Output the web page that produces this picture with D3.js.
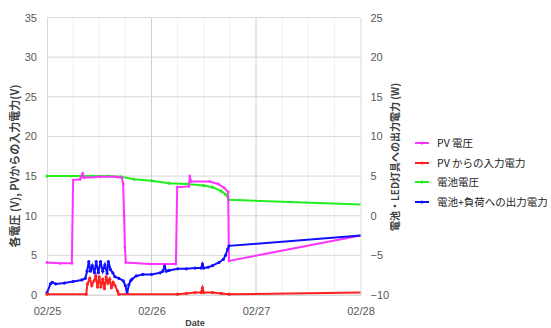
<!DOCTYPE html>
<html>
<head>
<meta charset="utf-8">
<script src="https://cdn.jsdelivr.net/npm/d3@7"></script>
<style>
body { margin: 0; background: #fff; }
svg { font-family: "Liberation Sans", "Noto Sans CJK JP", sans-serif; }
.tick text { fill: #595959; font-size: 11px; }
.domain { stroke: #d9d9d9; }
</style>
</head>
<body>
<svg class="chart"></svg>
<script>
// hours since 02/25 00:00
var dayLabels = ["02/25", "02/26", "02/27", "02/28"];
var leftTicks = [0, 5, 10, 15, 20, 25, 30, 35];
var rightTicks = [-10, -5, 0, 5, 10, 15, 20, 25];
var seriesNames = ["PV 電圧", "PV からの入力電力", "電池電圧", "電池+負荷への出力電力"];
var seriesColors = ["#ff33ff", "#ff2020", "#22ee22", "#1010ff"];

// PV voltage (V, left axis)
var pvVolt = [
    [0, 4.1], [3, 4.0], [5.7, 4.0], [6.0, 14.5], [7.6, 14.6], [8.2, 15.3], [8.5, 14.8],
    [12.2, 14.9], [15.6, 14.9], [17.2, 14.8], [17.5, 14.0], [17.7, 10], [17.9, 6],
    [18.1, 4.1], [23.7, 3.9], [29.6, 3.9], [29.9, 13.6], [32.6, 13.7], [32.8, 15.0],
    [33.1, 14.3], [37.4, 14.3], [39.3, 14.0], [40.7, 13.5], [41.6, 13.0], [41.8, 4.3],
    [72, 7.5]
];

// PV input power (left axis)
var pvPower = [
    [0, 0.1], [9.0, 0.1], [9.3, 1.4], [9.8, 2.1], [10.3, 1.2], [10.8, 1.8], [11.2, 2.4],
    [11.6, 1.0], [12.0, 2.3], [12.4, 1.0], [12.8, 2.0], [13.2, 0.8], [13.6, 2.3],
    [14.0, 1.5], [14.4, 2.0], [14.8, 0.9], [15.2, 1.6], [15.6, 1.2], [16.2, 0.5],
    [16.5, 0.1], [30, 0.1], [32, 0.2], [34, 0.3], [35.4, 0.3], [35.7, 0.9], [36.0, 0.3],
    [38, 0.3], [40, 0.2], [41.8, 0.1], [72, 0.3]
];

// battery voltage (V, left axis)
var battVolt = [
    [0, 15.0], [8, 15.0], [14, 15.0], [17, 14.9], [20, 14.6], [24, 14.4], [28, 14.1],
    [32, 14.0], [36, 13.8], [38, 13.6], [40, 13.1], [41, 12.7], [41.8, 12.0], [72, 11.4]
];

// output power to battery + load (W, right axis)
var outPower = [
    [0, -9.7], [0.8, -8.6], [1.2, -8.4], [2, -8.6], [4, -8.5], [6, -8.3], [8, -8.1],
    [8.8, -7.9], [9.2, -7.0], [9.6, -5.8], [10.0, -7.0], [10.4, -6.3], [10.9, -7.2],
    [11.3, -5.8], [11.8, -7.2], [12.3, -5.8], [12.8, -7.0], [13.3, -6.2], [13.8, -7.3],
    [14.1, -5.8], [14.6, -6.8], [15.1, -7.2], [15.6, -7.7], [16.5, -7.9], [17.5, -8.2],
    [18.0, -8.8], [18.4, -9.8], [18.8, -8.7], [19.2, -8.2], [19.5, -8.0], [20.5, -7.6],
    [22, -7.4], [24, -7.4], [26, -7.2], [26.6, -7.0], [27, -6.4], [27.4, -7.0],
    [28, -6.9], [30, -6.7], [32, -6.7], [34, -6.6], [35.4, -6.6], [35.7, -6.1],
    [36.0, -6.6], [37, -6.5], [38, -6.3], [39.5, -5.9], [40.5, -5.5], [41, -5.0],
    [41.5, -4.2], [41.8, -3.8], [72, -2.5]
];

var width = 551, height = 328;

var svg = d3.select(".chart")
    .attr("width", width)
    .attr("height", height);

var x = d3.scaleLinear().domain([0, 72]).range([47, 360.5]);
var yLeft = d3.scaleLinear().domain([0, 35]).range([295, 17.5]);
var yRight = d3.scaleLinear().domain([-10, 25]).range([295, 17.5]);

// minor vertical grid every 6 hours
svg.append("g")
    .selectAll("line")
    .data(d3.range(6, 72, 6).filter(function(h){ return h % 24 !== 0; }))
    .enter()
    .append("line")
    .attr("x1", function(d){ return x(d); })
    .attr("x2", function(d){ return x(d); })
    .attr("y1", yLeft(35))
    .attr("y2", yLeft(0))
    .attr("stroke", "#efefef")
    .attr("stroke-width", 1);

// horizontal grid
svg.append("g")
    .selectAll("line")
    .data(leftTicks)
    .enter()
    .append("line")
    .attr("x1", x(0))
    .attr("x2", x(72))
    .attr("y1", function(d){ return yLeft(d); })
    .attr("y2", function(d){ return yLeft(d); })
    .attr("stroke", "#d9d9d9")
    .attr("stroke-width", 1);

// major vertical grid per day
svg.append("g")
    .selectAll("line")
    .data([24, 48])
    .enter()
    .append("line")
    .attr("x1", function(d){ return x(d); })
    .attr("x2", function(d){ return x(d); })
    .attr("y1", yLeft(35))
    .attr("y2", yLeft(0))
    .attr("stroke", "#d0d0d0")
    .attr("stroke-width", 1);

var xAxis = d3.axisBottom(x)
    .tickValues([0, 24, 48, 72])
    .tickSize(0)
    .tickPadding(12)
    .tickFormat(function(d){ return dayLabels[d / 24]; });

svg.append("g")
    .attr("transform", "translate(0," + yLeft(0) + ")")
    .call(xAxis);

var yAxisLeft = d3.axisLeft(yLeft).tickValues(leftTicks).tickSize(0).tickPadding(10);
svg.append("g")
    .attr("transform", "translate(" + x(0) + ",0)")
    .call(yAxisLeft);

var yAxisRight = d3.axisRight(yRight).tickValues(rightTicks).tickSize(0).tickPadding(10);
svg.append("g")
    .attr("transform", "translate(" + x(72) + ",0)")
    .call(yAxisRight);

function drawSeries(data, yScale, color, dots){
    var line = d3.line()
        .x(function(d){ return x(d[0]); })
        .y(function(d){ return yScale(d[1]); });
    svg.append("path")
        .datum(data)
        .attr("d", line)
        .attr("fill", "none")
        .attr("stroke", color)
        .attr("stroke-width", 2);
    svg.append("g")
        .selectAll("circle")
        .data(data.slice(0, data.length - 1))
        .enter()
        .append("circle")
        .attr("cx", function(d){ return x(d[0]); })
        .attr("cy", function(d){ return yScale(d[1]); })
        .attr("r", dots)
        .attr("fill", color);
}

drawSeries(battVolt, yLeft, seriesColors[2], 1.6);
drawSeries(pvVolt, yLeft, seriesColors[0], 1.4);
drawSeries(outPower, yRight, seriesColors[3], 1.6);
drawSeries(pvPower, yLeft, seriesColors[1], 1.6);

// axis titles
svg.append("text")
    .attr("transform", "translate(19,166) rotate(-90)")
    .attr("text-anchor", "middle")
    .style("font-family", "'Noto Sans CJK JP'")
    .style("font-size", "11px")
    .style("font-weight", "bold")
    .attr("fill", "#404040")
    .text("各電圧 (V), PVからの入力電力(V)");

svg.append("text")
    .attr("transform", "translate(399,157) rotate(-90)")
    .attr("text-anchor", "middle")
    .style("font-family", "'Noto Sans CJK JP'")
    .style("font-size", "10px")
    .style("font-weight", "bold")
    .attr("fill", "#404040")
    .text("電池・LED灯具への出力電力 (W)");

svg.append("text")
    .attr("x", 195)
    .attr("y", 326)
    .attr("text-anchor", "middle")
    .style("font-size", "9px")
    .style("font-weight", "bold")
    .attr("fill", "#404040")
    .text("Date");

// legend
var legend = svg.append("g")
    .selectAll("g")
    .data(seriesNames)
    .enter()
    .append("g")
    .attr("transform", function(d, i){ return "translate(415," + [143, 163, 182, 202][i] + ")"; });

legend.append("line")
    .attr("x1", 0)
    .attr("x2", 14)
    .attr("stroke", function(d, i){ return seriesColors[i]; })
    .attr("stroke-width", 2);

legend.append("circle")
    .attr("cx", 7)
    .attr("r", 1.6)
    .attr("fill", function(d, i){ return seriesColors[i]; });

legend.append("text")
    .attr("x", 22)
    .attr("dy", "0.35em")
    .style("font-family", "'Noto Sans CJK JP'")
    .style("font-size", "10.5px")
    .attr("fill", "#222")
    .text(function(d){ return d; });
</script>
</body>
</html>
